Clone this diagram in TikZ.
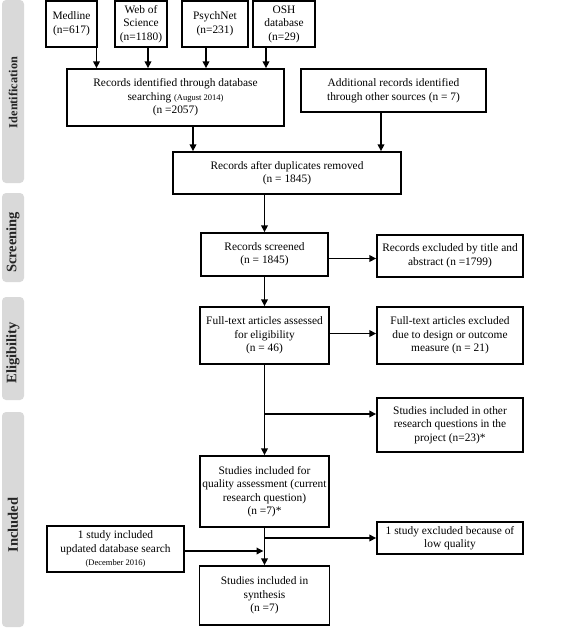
\documentclass[tikz,border=0pt]{standalone}
\usepackage{fontspec}
\setmainfont{Liberation Serif}
\usetikzlibrary{arrows.meta,calc}
\begin{document}
\begin{tikzpicture}[x=1pt,y=-1pt,
  box/.style={draw,line width=1.4pt,align=center,inner sep=1pt,
    font=\fontsize{11.4}{13.5}\selectfont},
  arr/.style={line width=1.8pt,-{Triangle[length=7pt,width=6.5pt]}},
  bar/.style={fill=black!15,rounded corners=4pt},
  barlab/.style={rotate=90,font=\fontsize{14.5}{16}\selectfont\bfseries,text=black!85}]
\useasboundingbox (0,0) rectangle (568,630);
% side bars
\fill[bar] (2,0) rectangle (24,183);
\fill[bar] (2,193) rectangle (24,282);
\fill[bar] (2,297) rectangle (24,400);
\fill[bar] (2,412) rectangle (24,627);
\node[barlab,font=\fontsize{12.3}{14}\selectfont\bfseries] (lid) at (13,92.5) {Identification};
\node[barlab] (lsc) at (13,242.5) {Screening};
\node[barlab] (lel) at (13,353) {Eligibility};
\node[barlab] (lin) at (13,525) {Included};
% boxes
\node[box,minimum width=51pt,minimum height=46pt] (med) at (71.5,24) {Medline\\(n=617)};
\node[box,minimum width=52pt,minimum height=46pt] (wos) at (141,24) {Web of\\Science\\(n=1180)};
\node[box,minimum width=66pt,minimum height=46pt] (psy) at (215,24) {PsychNet\\(n=231)};
\node[box,minimum width=62pt,minimum height=46pt] (osh) at (284,24) {OSH\\database\\(n=29)};
\node[box,minimum width=217pt,minimum height=57pt] (rid) at (175.5,97.5)
  {Records identified through database\\searching {\fontsize{8.5}{13.5}\selectfont (August 2014)}\\(n =2057)};
\node[box,minimum width=185pt,minimum height=43pt] (add) at (393.5,90.5)
  {Additional records identified\\through other sources (n = 7)};
\node[box,minimum width=228pt,minimum height=42pt] (dup) at (287,173)
  {Records after duplicates removed\\(n = 1845)};
\node[box,minimum width=127pt,minimum height=43pt] (scr) at (264.5,254.5)
  {Records screened\\(n = 1845)};
\node[box,minimum width=146pt,minimum height=42pt] (ex1) at (450,256)
  {Records excluded by title and\\abstract (n =1799)};
\node[box,minimum width=129pt,minimum height=57pt] (ful) at (264.5,335.5)
  {Full-text articles assessed\\for eligibility\\(n = 46)};
\node[box,minimum width=146pt,minimum height=57pt] (ex2) at (450,335.5)
  {Full-text articles excluded\\due to design or outcome\\measure (n = 21)};
\node[box,minimum width=146pt,minimum height=54pt] (oth) at (450,425)
  {Studies included in other\\research questions in the\\project (n=23)*};
\node[box,minimum width=129pt,minimum height=71pt] (qua) at (264.5,491.5)
  {Studies included for\\quality assessment (current\\research question)\\(n =7)*};
\node[box,minimum width=146pt,minimum height=32pt] (low) at (450,538)
  {1 study excluded because of\\low quality};
\node[box,minimum width=137pt,minimum height=46pt] (upd) at (115.5,549)
  {1 study included\\updated database search\\{\fontsize{8.5}{11}\selectfont (December 2016)}};
\node[box,minimum width=130pt,minimum height=59pt] (syn) at (264.5,595.5)
  {Studies included in\\synthesis\\(n =7)};
% arrows
\draw[arr] ([xshift=25pt]med.south) -- ([xshift=25pt]med.south |- rid.north);
\draw[arr] ([xshift=7pt]wos.south) -- ([xshift=7pt]wos.south |- rid.north);
\draw[arr] ([xshift=-9pt]psy.south) -- ([xshift=-9pt]psy.south |- rid.north);
\draw[arr] ([xshift=-18pt]osh.south) -- ([xshift=-18pt]osh.south |- rid.north);
\draw[arr] ([xshift=17.5pt]rid.south) -- ([xshift=17.5pt]rid.south |- dup.north);
\draw[arr] ([xshift=-12.5pt]add.south) -- ([xshift=-12.5pt]add.south |- dup.north);
\draw[arr] (scr.north |- dup.south) -- (scr.north);
\draw[arr] ([yshift=-4pt]scr.east) -- ([yshift=-4pt]scr.east -| ex1.west);
\draw[arr] (scr.south) -- (ful.north);
\draw[arr] ([yshift=2pt]ful.east) -- ([yshift=2pt]ful.east -| ex2.west);
\draw[arr] (ful.south) -- (qua.north);
\coordinate (b1) at (ful.south |- oth.west);
\draw[arr] ([yshift=11pt]b1) -- ([yshift=11pt]oth.west);
\draw[arr] (qua.south) -- (syn.north);
\coordinate (b2) at (qua.south |- low.west);
\draw[arr] (b2) -- (low.west);
\draw[arr] ([yshift=-2pt]upd.east) -- ([yshift=-2pt,xshift=-1pt]upd.east -| syn.north);
\end{tikzpicture}
\end{document}
